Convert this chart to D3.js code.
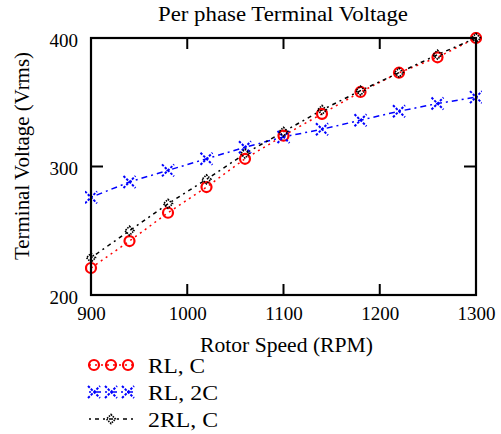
<!DOCTYPE html>
<html><head><meta charset="utf-8">
<script src="https://cdn.jsdelivr.net/npm/d3@7"></script>
<style>body{margin:0;background:#fff}svg{display:block}text{font-family:"Liberation Serif","DejaVu Serif",serif;fill:#000}</style>
</head><body><div id="c"></div>
<script>
const speeds = [900, 940, 980, 1020, 1060, 1100, 1140, 1180, 1220, 1260, 1300];
const rlC    = [221, 242, 264, 284, 306, 324, 341, 358, 373, 385, 400];
const rl2C   = [276, 288, 297, 306, 315, 323, 329, 336, 343, 349, 354];
const twoRlC = [229, 250, 271, 290, 310, 327, 344, 359, 373, 387, 400];
const xTicks = [900, 1000, 1100, 1200, 1300];
const yTicks = [200, 300, 400];
const seriesNames = ["RL, C", "RL, 2C", "2RL, C"];
const seriesColors = ["#ff0000", "#0000ff", "#000000"];

const W = 501, H = 434;
const FONT = "Liberation Serif, DejaVu Serif, serif";
const svg = d3.select("#c").append("svg").attr("width", W).attr("height", H);
const x = d3.scaleLinear().domain([900, 1300]).range([91, 476]);
const y = d3.scaleLinear().domain([200, 400]).range([295, 38]);

function txt(sel, s, size, len) {
  const t = sel.append("text").attr("font-family", FONT).style("font-size", size + "px").text(s);
  if (len) t.attr("textLength", len).attr("lengthAdjust", "spacingAndGlyphs");
  return t;
}

txt(svg, "Per phase Terminal Voltage", 20, 250).attr("x", 158).attr("y", 21);

svg.append("clipPath").attr("id", "cl").append("rect")
  .attr("x", 85).attr("y", 32).attr("width", 397).attr("height", 269);

const g = svg.append("g").attr("clip-path", "url(#cl)");
const line = d3.line().x((d, i) => x(speeds[i])).y(d => y(d));

const data = [rlC, rl2C, twoRlC];
const dashes = ["2,4", "2,4,6,4", "2,4,4,4"];
data.forEach((s, k) => {
  g.append("path").attr("d", line(s)).attr("fill", "none")
    .attr("stroke", seriesColors[k]).attr("stroke-width", 1.5).attr("stroke-dasharray", dashes[k]);
});

function marker(sel, k, cx, cy) {
  const c = seriesColors[k];
  if (k === 0) {
    sel.append("circle").attr("cx", cx).attr("cy", cy).attr("r", 5)
      .attr("fill", "none").attr("stroke", c).attr("stroke-width", 2.2);
  } else if (k === 1) {
    const s = 6;
    sel.append("path").attr("d", `M${cx-s},${cy-s}L${cx+s},${cy+s}M${cx-s},${cy+s}L${cx+s},${cy-s}`)
      .attr("stroke", c).attr("stroke-width", 2).attr("stroke-dasharray", "2.5,1.5");
  } else {
    const s = 4.5;
    sel.append("path").attr("d", `M${cx},${cy-s}L${cx+s},${cy}L${cx},${cy+s}L${cx-s},${cy}Z`)
      .attr("fill", "none").attr("stroke", c).attr("stroke-width", 1.6).attr("stroke-dasharray", "1.5,1");
  }
}
data.forEach((s, k) => {
  s.forEach((v, i) => marker(g, k, x(speeds[i]), y(v)));
});

svg.append("rect").attr("x", 91).attr("y", 38).attr("width", 385).attr("height", 257)
  .attr("fill", "none").attr("stroke", "#000").attr("stroke-width", 2.2);

const xb = d3.axisBottom(x).tickValues(xTicks).tickSize(0).tickPadding(0).tickFormat(d3.format("d"));
const yl = d3.axisLeft(y).tickValues(yTicks).tickSize(0).tickPadding(0).tickFormat(d3.format("d"));
const ax = svg.append("g").attr("transform", "translate(0,295)").call(xb);
const ay = svg.append("g").attr("transform", "translate(91,0)").call(yl);
[ax, ay].forEach(a => {
  a.select(".domain").remove();
  a.selectAll("text").attr("font-family", FONT).style("font-size", "19px");
});
ax.selectAll("text").attr("dy", null).attr("y", 25);
ay.selectAll("text").attr("dy", null).attr("x", -13).attr("y", 8);

xTicks.slice(1, -1).forEach(v => {
  svg.append("line").attr("x1", x(v)).attr("x2", x(v)).attr("y1", 295).attr("y2", 284).attr("stroke", "#000").attr("stroke-width", 2);
  svg.append("line").attr("x1", x(v)).attr("x2", x(v)).attr("y1", 38).attr("y2", 49).attr("stroke", "#000").attr("stroke-width", 2);
});
yTicks.slice(1, -1).forEach(v => {
  svg.append("line").attr("x1", 91).attr("x2", 103).attr("y1", y(v)).attr("y2", y(v)).attr("stroke", "#000").attr("stroke-width", 2);
  svg.append("line").attr("x1", 476).attr("x2", 464).attr("y1", y(v)).attr("y2", y(v)).attr("stroke", "#000").attr("stroke-width", 2);
});

txt(svg, "Rotor Speed (RPM)", 20, 173).attr("x", 200).attr("y", 352);
txt(svg, "Terminal Voltage (Vrms)", 20, 208).attr("transform", "translate(29,260) rotate(-90)");

const ly = [365, 392, 419];
seriesNames.forEach((n, k) => {
  const lg = svg.append("g");
  lg.append("line").attr("x1", 89).attr("x2", 135).attr("y1", ly[k]).attr("y2", ly[k])
    .attr("stroke", seriesColors[k]).attr("stroke-width", 1.5).attr("stroke-dasharray", dashes[k]);
  [94, 111, 128].forEach((px, j) => { if (k !== 2 || j === 1) marker(lg, k, px, ly[k]); });
  txt(lg, n, 20, [57, 70, 70][k]).attr("x", 148).attr("y", ly[k] + 8);
});
</script></body></html>
